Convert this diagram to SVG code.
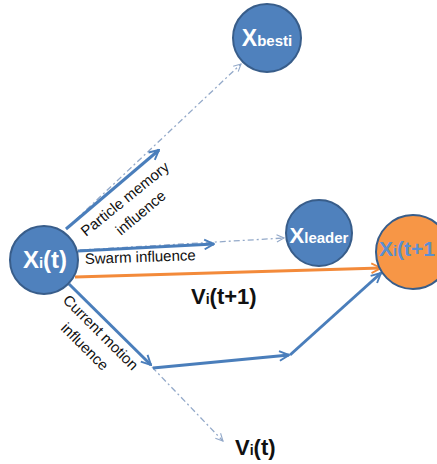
<svg xmlns="http://www.w3.org/2000/svg" width="437" height="464" viewBox="0 0 437 464">
  <style>
    .node { fill: #4f81bd; stroke: #385d8a; stroke-width: 2; }
    .node-new { fill: #f79646; stroke: #385d8a; stroke-width: 2; }
    .ntext { font-family: "Liberation Sans", Arial, sans-serif; font-weight: bold; fill: #ffffff; }
    .solid { fill: none; stroke: #4a7ebb; stroke-width: 3; marker-end: url(#head); }
    .orange { fill: none; stroke: #f38a3a; stroke-width: 3; marker-end: url(#headOrange); }
    .guide { fill: none; stroke: #93a9c9; stroke-width: 1.3; stroke-dasharray: 6 3 2 3; marker-end: url(#headOpen); }
    .label { font-family: "Liberation Sans", Arial, sans-serif; font-size: 15px; fill: #111111; }
    .vtext { font-family: "Liberation Sans", Arial, sans-serif; font-weight: bold; font-size: 22px; fill: #111111; }
  </style>
  <defs>
    <marker id="head" viewBox="0 0 10 10" refX="9" refY="5" markerWidth="4" markerHeight="4" orient="auto" markerUnits="strokeWidth">
      <path d="M1,1 L9,5 L1,9" fill="none" stroke="#4a7ebb" stroke-width="1.6"/>
    </marker>
    <marker id="headOrange" viewBox="0 0 10 10" refX="9" refY="5" markerWidth="4" markerHeight="4" orient="auto" markerUnits="strokeWidth">
      <path d="M1,1 L9,5 L1,9" fill="none" stroke="#f38a3a" stroke-width="1.6"/>
    </marker>
    <marker id="headOpen" viewBox="0 0 10 10" refX="9" refY="5" markerWidth="7" markerHeight="7" orient="auto" markerUnits="strokeWidth">
      <path d="M1,1 L9,5 L1,9" fill="none" stroke="#93a9c9" stroke-width="1.2"/>
    </marker>
  </defs>

  <g id="connectors">
    <!-- dash-dot guides toward targets -->
    <path class="guide" d="M66,229 L241,64"/>
    <path class="guide" d="M80,250 L284,238"/>
    <path class="guide" d="M152,367 L223,441"/>
    <!-- velocity components -->
    <path class="solid" d="M66,229 L159,150"/>
    <path class="solid" d="M78,251 L214,244"/>
    <path class="solid" d="M69,284 L151,365"/>
    <path class="solid" d="M153,368 L289,355"/>
    <path class="solid" d="M290,355 L381,273"/>
    <!-- resulting velocity -->
    <path class="orange" d="M75,277 L381,268"/>
  </g>

  <g id="node-xi-t">
    <circle class="node" cx="44" cy="260" r="34"/>
    <text class="ntext" x="45" y="268" text-anchor="middle" font-size="24">X<tspan font-size="15">i</tspan>(t)</text>
  </g>

  <g id="node-xbest">
    <circle class="node" cx="267" cy="38" r="34"/>
    <text class="ntext" x="267" y="46" text-anchor="middle" font-size="23">X<tspan font-size="15">besti</tspan></text>
  </g>

  <g id="node-xleader">
    <circle class="node" cx="319" cy="233" r="33"/>
    <text class="ntext" x="319" y="243" text-anchor="middle" font-size="22">X<tspan font-size="15">leader</tspan></text>
  </g>

  <g id="node-xi-next">
    <circle class="node-new" cx="413" cy="252" r="37"/>
    <text class="ntext" x="379" y="256" font-size="21" style="fill:#5b8fd0">X<tspan font-size="14">i</tspan>(t+1</text>
  </g>

  <g id="labels">
    <text class="label" transform="translate(86,237) rotate(-39)">Particle memory</text>
    <text class="label" transform="translate(121,236) rotate(-40)">influence</text>
    <text class="label" transform="translate(85,264) rotate(-2)">Swarm influence</text>
    <text class="label" transform="translate(62,301) rotate(45)">Current motion</text>
    <text class="label" transform="translate(60,329) rotate(45)">influence</text>
    <text class="vtext" x="191" y="304">V<tspan font-size="14">i</tspan>(t+1)</text>
    <text class="vtext" x="235" y="455">V<tspan font-size="14">i</tspan>(t)</text>
  </g>
</svg>
